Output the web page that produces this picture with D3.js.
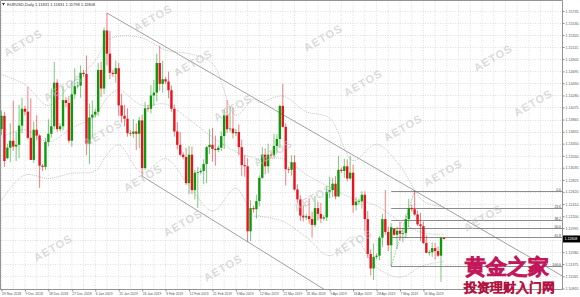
<!DOCTYPE html>
<html>
<head>
<meta charset="utf-8">
<script src="https://cdn.jsdelivr.net/npm/d3@7"></script>
<style>
  body { margin: 0; background: #fff; }
  svg text { font-family: "Liberation Sans", sans-serif; }
</style>
</head>
<body>
<div id="chart"></div>
<script>
var W = 580, H = 297;
var plot = {left: 0, top: 0, right: 562, bottom: 289};

// EURUSD daily bars, 29 Nov 2018 .. 24 May 2019 (broker shows Sunday bars), one row per week
var open = [1.1370,1.1393,
  1.1320,1.1338,1.1350,1.1340,1.1343,1.1376,
  1.1405,1.1400,1.1355,1.1317,1.1369,1.1359,
  1.1307,1.1305,1.1348,1.1362,1.1375,1.1450,
  1.1370,1.1375,1.1420,1.1415,1.1350,1.1430,
  1.1444,1.1445,1.1467,1.1465,1.1345,1.1390,
  1.1395,1.1400,1.1472,1.1440,1.1540,1.1500,
  1.1467,1.1465,1.1475,1.1411,1.1393,1.1388,
  1.1363,1.1362,1.1366,1.1362,1.1385,1.1303,
  1.1406,1.1405,1.1428,1.1433,1.1484,1.1448,
  1.1456,1.1452,1.1437,1.1405,1.1366,1.1343,
  1.1326,1.1322,1.1277,1.1326,1.1265,1.1295,
  1.1296,1.1298,1.1310,1.1339,1.1343,1.1336,
  1.1334,1.1338,1.1358,1.1394,1.1370,1.1371,
  1.1363,1.1365,1.1339,1.1308,1.1306,1.1194,
  1.1234,1.1232,1.1246,1.1286,1.1326,1.1306,
  1.1326,1.1325,1.1341,1.1353,1.1410,1.1374,
  1.1301,1.1300,1.1313,1.1266,1.1249,1.1221,
  1.1218,1.1220,1.1215,1.1205,1.1234,1.1224,
  1.1216,1.1218,1.1262,1.1265,1.1276,1.1254,
  1.1300,1.1298,1.1306,1.1285,1.1295,1.1239,
  1.1245,1.1246,1.1257,1.1215,1.1155,1.1130,
  1.1150,1.1152,1.1183,1.1215,1.1193,1.1170,
  1.1198,1.1188,1.1195,1.1190,1.1191,1.1215,
  1.1234,1.1232,1.1223,1.1206,1.1203,1.1174,
  1.1157,1.1158,1.1165,1.1160,1.1152,
  1.11831];
var high = [1.1402,1.1400,
  1.1345,1.1380,1.1419,1.1365,1.1412,1.1424,
  1.1410,1.1443,1.1423,1.1383,1.1394,1.1361,
  1.1310,1.1355,1.1387,1.1440,1.1486,1.1456,
  1.1380,1.1444,1.1425,1.1427,1.1453,1.1475,
  1.1452,1.1480,1.1472,1.1497,1.1414,1.1419,
  1.1405,1.1484,1.1486,1.1545,1.1570,1.1539,
  1.1472,1.1488,1.1484,1.1431,1.1412,1.1406,
  1.1368,1.1387,1.1380,1.1391,1.1395,1.1417,
  1.1412,1.1446,1.1455,1.1500,1.1514,1.1488,
  1.1460,1.1469,1.1445,1.1412,1.1382,1.1365,
  1.1330,1.1338,1.1341,1.1340,1.1300,1.1305,
  1.1302,1.1318,1.1341,1.1370,1.1372,1.1359,
  1.1342,1.1366,1.1404,1.1420,1.1408,1.1407,
  1.1370,1.1378,1.1352,1.1325,1.1320,1.1248,
  1.1238,1.1257,1.1290,1.1339,1.1337,1.1345,
  1.1330,1.1362,1.1361,1.1412,1.1448,1.1380,
  1.1305,1.1325,1.1325,1.1275,1.1256,1.1239,
  1.1224,1.1251,1.1228,1.1255,1.1245,1.1243,
  1.1222,1.1272,1.1288,1.1286,1.1289,1.1324,
  1.1304,1.1319,1.1318,1.1324,1.1309,1.1253,
  1.1250,1.1263,1.1263,1.1229,1.1163,1.1173,
  1.1156,1.1186,1.1224,1.1265,1.1202,1.1208,
  1.1200,1.1202,1.1210,1.1200,1.1223,1.1250,
  1.1240,1.1264,1.1230,1.1226,1.1211,1.1187,
  1.1162,1.1175,1.1174,1.1168,1.1185,
  1.11831];
var low = [1.1360,1.1305,
  1.1318,1.1313,1.1333,1.1315,1.1320,1.1363,
  1.1394,1.1352,1.1317,1.1312,1.1351,1.1269,
  1.1298,1.1300,1.1340,1.1355,1.1370,1.1365,
  1.1366,1.1368,1.1408,1.1346,1.1340,1.1422,
  1.1440,1.1424,1.1460,1.1325,1.1310,1.1354,
  1.1390,1.1393,1.1425,1.1430,1.1480,1.1456,
  1.1460,1.1450,1.1393,1.1381,1.1375,1.1357,
  1.1358,1.1355,1.1334,1.1337,1.1289,1.1300,
  1.1400,1.1397,1.1410,1.1418,1.1436,1.1433,
  1.1448,1.1423,1.1400,1.1357,1.1335,1.1323,
  1.1318,1.1274,1.1258,1.1258,1.1249,1.1234,
  1.1292,1.1275,1.1277,1.1327,1.1314,1.1307,
  1.1330,1.1332,1.1336,1.1363,1.1365,1.1354,
  1.1358,1.1325,1.1289,1.1288,1.1176,1.1177,
  1.1226,1.1216,1.1237,1.1284,1.1292,1.1294,
  1.1320,1.1320,1.1328,1.1337,1.1373,1.1273,
  1.1294,1.1290,1.1264,1.1243,1.1212,1.1211,
  1.1214,1.1207,1.1183,1.1201,1.1213,1.1208,
  1.1212,1.1212,1.1251,1.1253,1.1249,1.1254,
  1.1294,1.1286,1.1280,1.1283,1.1226,1.1230,
  1.1240,1.1233,1.1194,1.1148,1.1118,1.1110,
  1.1146,1.1144,1.1167,1.1188,1.1160,1.1134,
  1.1186,1.1164,1.1178,1.1175,1.1182,1.1201,
  1.1228,1.1221,1.1203,1.1177,1.1172,1.1156,
  1.1152,1.1150,1.1145,1.1150,1.1107,
  1.11798];
var close = [1.1393,1.1315,
  1.1338,1.1350,1.1340,1.1343,1.1376,1.1405,
  1.1400,1.1355,1.1317,1.1369,1.1359,1.1307,
  1.1305,1.1348,1.1362,1.1375,1.1450,1.1370,
  1.1375,1.1420,1.1415,1.1350,1.1430,1.1444,
  1.1445,1.1467,1.1465,1.1345,1.1390,1.1395,
  1.1400,1.1472,1.1440,1.1540,1.1500,1.1467,
  1.1465,1.1475,1.1411,1.1393,1.1388,1.1363,
  1.1362,1.1366,1.1362,1.1385,1.1303,1.1406,
  1.1405,1.1428,1.1433,1.1484,1.1448,1.1456,
  1.1452,1.1437,1.1405,1.1366,1.1343,1.1326,
  1.1322,1.1277,1.1326,1.1265,1.1295,1.1296,
  1.1298,1.1310,1.1339,1.1343,1.1336,1.1334,
  1.1338,1.1358,1.1394,1.1370,1.1371,1.1363,
  1.1365,1.1339,1.1308,1.1306,1.1194,1.1234,
  1.1232,1.1246,1.1286,1.1326,1.1306,1.1326,
  1.1325,1.1341,1.1353,1.1410,1.1374,1.1301,
  1.1300,1.1313,1.1266,1.1249,1.1221,1.1218,
  1.1220,1.1215,1.1205,1.1234,1.1224,1.1216,
  1.1218,1.1262,1.1265,1.1276,1.1254,1.1300,
  1.1298,1.1306,1.1285,1.1295,1.1239,1.1245,
  1.1246,1.1257,1.1215,1.1155,1.1130,1.1150,
  1.1152,1.1183,1.1215,1.1193,1.1170,1.1201,
  1.1188,1.1195,1.1190,1.1191,1.1215,1.1234,
  1.1232,1.1223,1.1206,1.1203,1.1174,1.1157,
  1.1158,1.1165,1.1160,1.1152,1.1183,
  1.11808];

// time labels every 8 bars
var xLabels = ["29 Nov 2018","9 Dec 2018","18 Dec 2018","27 Dec 2018","6 Jan 2019","15 Jan 2019",
  "24 Jan 2019","3 Feb 2019","12 Feb 2019","21 Feb 2019","3 Mar 2019","12 Mar 2019","21 Mar 2019",
  "31 Mar 2019","9 Apr 2019","18 Apr 2019","28 Apr 2019","7 May 2019","16 May 2019"];
var yLabels = [1.15735,1.15530,1.15320,1.15115,1.14905,1.14695,1.14490,1.14280,1.14075,1.13865,
  1.13655,1.13450,1.13240,1.13035,1.12825,1.12620,1.12410,1.12200,1.11995,1.11790,1.11580,
  1.11375,1.11165,1.10955];

// Bollinger band, read at some bars
var bandBars   = [0, 8, 16, 24, 32, 36, 40, 48, 56, 64, 72, 80, 86, 88, 96, 104, 112, 120, 128, 136, 144, 151];
var bandUpper  = [1.1464,1.1447,1.1411,1.1449,1.1488,1.1522,1.1530,1.1527,1.1506,1.1500,1.1483,
  1.1394,1.1422,1.1416,1.1427,1.1400,1.1389,1.1316,1.1344,1.1307,1.1246,1.1236];
var bandMiddle = [1.1356,1.1369,1.1348,1.1372,1.1393,1.1424,1.1437,1.1411,1.1413,1.1387,1.1356,
  1.1331,1.1321,1.1318,1.1319,1.1292,1.1270,1.1250,1.1238,1.1211,1.1191,1.1189];
var bandLower  = [1.1248,1.1291,1.1285,1.1294,1.1298,1.1326,1.1343,1.1295,1.1319,1.1273,1.1229,
  1.1268,1.1221,1.1220,1.1211,1.1184,1.1152,1.1184,1.1132,1.1115,1.1135,1.1142];

var fibLevels = [0, 23.6, 38.2, 50, 61.8, 100];
var fibLabels = ["0.0", "23.6", "38.2", "50.0", "61.8", "100.0"];
var fibHigh = [141, 1.1264], fibLow = [133, 1.1134];
var upperTrend = [[36, 1.1570], [141, 1.1264]];
var lowerTrend = [[48, 1.1289], [84, 1.1176]];
var lastPrice = 1.11808;
var title = "EURUSD,Daily  1.11831 1.11831 1.11798 1.11808";

var green = "#0c9a0c", red = "#e8141c";

var svg = d3.select("#chart").append("svg")
    .attr("width", W)
    .attr("height", H);

svg.append("rect").attr("width", W).attr("height", H).attr("fill", "#fff");

var x = d3.scaleLinear().domain([0, 191.3]).range([1.5, plot.right]);
var y = d3.scaleLinear().domain([1.10955, 1.15735]).range([288.5, 11]);

svg.append("clipPath").attr("id", "clip")
    .append("rect").attr("x", 0).attr("y", 0)
    .attr("width", plot.right).attr("height", plot.bottom);

// grid
var grid = svg.append("g").attr("stroke", "#c9c9c9").attr("stroke-width", 0.6)
    .attr("stroke-dasharray", "1,1.5");
grid.selectAll(".hg").data(yLabels).enter().append("line")
    .attr("x1", 0).attr("x2", plot.right)
    .attr("y1", d => Math.round(y(d)) + 0.5).attr("y2", d => Math.round(y(d)) + 0.5);
grid.selectAll(".vg").data(d3.range(0, 190, 4)).enter().append("line")
    .attr("x1", d => x(d)).attr("x2", d => x(d))
    .attr("y1", 0).attr("y2", plot.bottom);

var main = svg.append("g").attr("clip-path", "url(#clip)");

// bollinger bands
var bandLine = d3.line().curve(d3.curveCatmullRom)
    .x(d => x(d[0])).y(d => y(d[1]));
[bandUpper, bandMiddle, bandLower].forEach(function(vals) {
    main.append("path")
        .datum(bandBars.map((b, i) => [b, vals[i]]))
        .attr("d", bandLine)
        .attr("fill", "none")
        .attr("stroke", "#9c9c9c")
        .attr("stroke-width", 0.6)
        .attr("stroke-dasharray", "1,1");
});

// trend lines (rays to the right)
function ray(p) {
    var x1 = x(p[0][0]), y1 = y(p[0][1]), x2 = x(p[1][0]), y2 = y(p[1][1]);
    var k = (y2 - y1) / (x2 - x1);
    return [x1, y1, plot.right, y1 + k * (plot.right - x1)];
}
[upperTrend, lowerTrend].forEach(function(t) {
    var r = ray(t);
    main.append("line")
        .attr("x1", r[0]).attr("y1", r[1]).attr("x2", r[2]).attr("y2", r[3])
        .attr("stroke", "#8a8a8a").attr("stroke-width", 0.8);
});

// fibonacci
var fibG = main.append("g");
fibLevels.forEach(function(lv, i) {
    var p = fibHigh[1] - (fibHigh[1] - fibLow[1]) * lv / 100;
    var yy = Math.round(y(p)) + 0.5;
    fibG.append("line")
        .attr("x1", x(fibLow[0])).attr("x2", plot.right)
        .attr("y1", yy).attr("y2", yy)
        .attr("stroke", "#6f6f6f").attr("stroke-width", 0.8);
    fibG.append("text")
        .attr("x", plot.right - 1).attr("y", yy - 1)
        .attr("text-anchor", "end")
        .attr("font-size", 3.4).attr("fill", "#444")
        .text(fibLabels[i]);
});
fibG.append("line")
    .attr("x1", x(fibLow[0])).attr("y1", y(fibLow[1]))
    .attr("x2", x(fibHigh[0])).attr("y2", y(fibHigh[1]))
    .attr("stroke", "#777").attr("stroke-width", 0.6)
    .attr("stroke-dasharray", "1.5,1.5");

// candles
var bars = d3.range(open.length);
var candles = main.append("g");
candles.selectAll(".wick").data(bars).enter().append("line")
    .attr("x1", i => x(i)).attr("x2", i => x(i))
    .attr("y1", i => y(high[i])).attr("y2", i => y(low[i]))
    .attr("stroke", i => close[i] >= open[i] ? green : red)
    .attr("stroke-opacity", 0.6)
    .attr("stroke-width", 0.9);
candles.selectAll(".body").data(bars).enter().append("rect")
    .attr("x", i => x(i) - 1.2)
    .attr("width", 2.4)
    .attr("y", i => y(Math.max(open[i], close[i])))
    .attr("height", i => Math.max(0.7, Math.abs(y(open[i]) - y(close[i]))))
    .attr("fill", i => close[i] >= open[i] ? green : red);

// watermarks (kept clear of the logo corner)
var marks = [];
for (var m = -2; m < 7; m++) {
    for (var n = -2; n < 8; n++) {
        var px = 23 + m * 130 + n * 40, py = 43 - m * 25 + n * 45;
        var inLogo = px > 440 && py > 235;
        if (px > 22 && px < 540 && py > 14 && py < 280 && !inLogo) marks.push([px, py]);
    }
}
svg.append("g").selectAll("text").data(marks).enter().append("text")
    .attr("transform", d => "translate(" + d[0] + "," + d[1] + ") rotate(-30)")
    .attr("text-anchor", "middle")
    .attr("dy", "0.35em")
    .attr("font-family", "DejaVu Sans")
    .attr("font-size", 11)
    .attr("font-weight", "bold")
    .attr("letter-spacing", 1)
    .attr("fill", "#bdbdbd")
    .attr("fill-opacity", 0.55)
    .text("AETOS");

// frame
svg.append("path")
    .attr("d", "M0.5," + plot.bottom + ".5V0.5H" + plot.right + ".5V" + plot.bottom + ".5H0.5")
    .attr("fill", "none").attr("stroke", "#7a7a7a").attr("stroke-width", 0.8);

// price axis
var yAxis = svg.append("g")
    .attr("transform", "translate(" + (plot.right + 0.5) + ",0)")
    .call(d3.axisRight(y).tickValues(yLabels).tickSize(2).tickPadding(1)
        .tickFormat(d3.format(".5f")));
yAxis.select(".domain").remove();
yAxis.selectAll("text").attr("font-size", 3.6).attr("fill", "#555").attr("font-family", "Liberation Sans");
yAxis.selectAll("line").attr("stroke", "#888");

// time axis
var xAxis = svg.append("g")
    .attr("transform", "translate(0," + (plot.bottom + 0.5) + ")")
    .call(d3.axisBottom(x).tickValues(xLabels.map((d, i) => i * 8)).tickSize(2).tickPadding(1)
        .tickFormat((d, i) => xLabels[i]));
xAxis.select(".domain").remove();
xAxis.selectAll("text").attr("text-anchor", "start").attr("font-size", 3.4)
    .attr("fill", "#555").attr("font-family", "Liberation Sans");
xAxis.selectAll("line").attr("stroke", "#888");

// current price tag
var py0 = y(lastPrice);
svg.append("rect").attr("x", plot.right + 1).attr("y", py0 - 3.5)
    .attr("width", 17).attr("height", 7).attr("fill", "#000");
svg.append("text").attr("x", plot.right + 2.5).attr("y", py0 + 1.3)
    .attr("font-size", 3.6).attr("fill", "#fff").text(d3.format(".5f")(lastPrice));

// title
svg.append("path").attr("d", "M2,3 L5,3 L3.5,5.5 Z").attr("fill", "#333");
svg.append("text").attr("x", 7).attr("y", 5.8).attr("font-size", 4)
    .attr("fill", "#333").text(title);

// site logo overlay
svg.append("text").attr("x", 465).attr("y", 273.5)
    .attr("font-family", "Noto Sans CJK SC").attr("font-weight", "bold")
    .attr("font-size", 21).attr("fill", "#f48fb1")
    .attr("stroke", "#c2185b").attr("stroke-width", 0.8)
    .text("黄金之家");
svg.append("text").attr("x", 464).attr("y", 291.5)
    .attr("font-family", "Noto Sans CJK SC").attr("font-weight", "bold")
    .attr("font-size", 12.5).attr("fill", "#f06292")
    .attr("stroke", "#b0123f").attr("stroke-width", 0.4)
    .text("投资理财入门网");
</script>
</body>
</html>
